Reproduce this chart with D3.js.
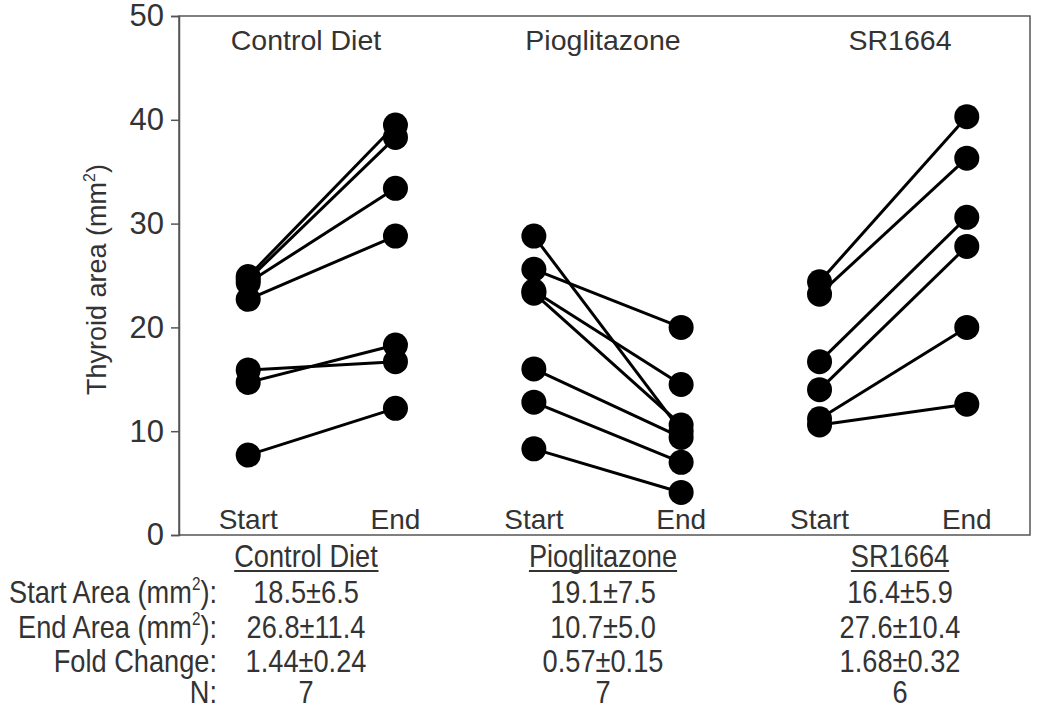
<!DOCTYPE html>
<html>
<head>
<meta charset="utf-8">
<script src="https://cdn.jsdelivr.net/npm/d3@7"></script>
<style>
  html, body { margin: 0; padding: 0; background: #fff; }
  svg text { font-family: "Liberation Sans", Arial, sans-serif; fill: #333; }
</style>
</head>
<body>
<svg id="chart" width="1050" height="710"></svg>
<script>
// ---- data ----
const groups = ["Control Diet", "Pioglitazone", "SR1664"];
const phases = ["Start", "End"];
const controlStart = [24.9, 24.6, 24.3, 22.7, 15.9, 14.7, 7.7];
const controlEnd   = [39.5, 38.3, 33.4, 28.8, 16.7, 18.3, 12.2];
const pioStart = [28.8, 25.6, 23.5, 23.3, 16.0, 12.8, 8.3];
const pioEnd   = [10.0, 20.0, 14.5, 10.6, 9.4, 7.0, 4.1];
const srStart = [24.4, 23.2, 16.7, 14.0, 11.2, 10.6];
const srEnd   = [40.3, 36.3, 30.6, 27.8, 20.0, 12.6];
const yTicks = [0, 10, 20, 30, 40, 50];
const yLabel = "Thyroid area (mm";
const rowLabels = ["Start Area (mm", "End Area (mm", "Fold Change:", "N:"];
const rowHasSup = [true, true, false, false];
const tableValues = [
  ["18.5\u00b16.5", "19.1\u00b17.5", "16.4\u00b15.9"],
  ["26.8\u00b111.4", "10.7\u00b15.0", "27.6\u00b110.4"],
  ["1.44\u00b10.24", "0.57\u00b10.15", "1.68\u00b10.32"],
  ["7", "7", "6"]
];
const series = [
  { group: groups[0], start: controlStart, end: controlEnd },
  { group: groups[1], start: pioStart, end: pioEnd },
  { group: groups[2], start: srStart, end: srEnd }
];

// ---- layout ----
const svg = d3.select("#chart");
const mLeft = 179, mRight = 1030, mTop = 16, mBottom = 535;

const y = d3.scaleLinear().domain([0, 50]).range([mBottom, mTop]);
const xg = d3.scaleBand().domain(groups).range([mLeft, mRight + 6]);
const xp = d3.scalePoint().domain(phases).range([0, xg.bandwidth()]).padding(0.47);
const xt = d3.scalePoint().domain(groups).range([306, 900]); // title / table columns

// frame
svg.append("rect")
  .attr("x", mLeft).attr("y", mTop)
  .attr("width", mRight - mLeft).attr("height", mBottom - mTop)
  .attr("fill", "none").attr("stroke", "#555").attr("stroke-width", 1.5);

// y axis
const yAxis = svg.append("g")
  .attr("transform", `translate(${mLeft},0)`)
  .call(d3.axisLeft(y).tickValues(yTicks).tickSize(8).tickPadding(7));
yAxis.select(".domain").attr("stroke", "#555").attr("stroke-width", 1.5);
yAxis.selectAll(".tick line").attr("stroke", "#555").attr("stroke-width", 1.5);
yAxis.selectAll(".tick text")
  .style("font-family", '"Liberation Sans", Arial, sans-serif')
  .style("font-size", "31px").attr("fill", "#333");

// y label
const yl = svg.append("text")
  .attr("transform", `translate(106,${(mTop + mBottom) / 2 + 4}) rotate(-90)`)
  .attr("text-anchor", "middle")
  .style("font-size", "27px");
yl.append("tspan").text(yLabel);
yl.append("tspan").text("2").style("font-size", "16px").attr("dy", -11);
yl.append("tspan").text(")").attr("dy", 11);

// group titles & phase labels
groups.forEach(g => {
  svg.append("text")
    .attr("x", xt(g)).attr("y", 50)
    .attr("text-anchor", "middle")
    .style("font-size", "28.5px")
    .text(g);
  phases.forEach(p => {
    svg.append("text")
      .attr("x", xg(g) + xp(p)).attr("y", 529)
      .attr("text-anchor", "middle")
      .style("font-size", "28px")
      .text(p);
  });
});

// lines and points
series.forEach(s => {
  const gx0 = xg(s.group) + xp("Start");
  const gx1 = xg(s.group) + xp("End");
  const pairs = s.start.map((v, i) => ({ a: v, b: s.end[i] }));
  const g = svg.append("g");
  g.selectAll("line.pair").data(pairs).join("line")
    .attr("x1", gx0).attr("x2", gx1)
    .attr("y1", d => y(d.a)).attr("y2", d => y(d.b))
    .attr("stroke", "#000").attr("stroke-width", 3);
  g.selectAll("circle.s").data(s.start).join("circle")
    .attr("cx", gx0).attr("cy", d => y(d)).attr("r", 12.5).attr("fill", "#000");
  g.selectAll("circle.e").data(s.end).join("circle")
    .attr("cx", gx1).attr("cy", d => y(d)).attr("r", 12.5).attr("fill", "#000");
});

// table (condensed text)
const rowY = [567, 603, 638, 672, 703];
const sx = 0.85;
function narrowText(x, yy, anchor) {
  return svg.append("text")
    .attr("transform", `translate(${x},${yy}) scale(${sx},1)`)
    .attr("text-anchor", anchor)
    .style("font-size", "32px");
}
groups.forEach(g => {
  const t = narrowText(xt(g), rowY[0], "middle").text(g);
  const bb = t.node().getBBox();
  svg.append("line")
    .attr("x1", xt(g) + bb.x * sx).attr("x2", xt(g) + (bb.x + bb.width) * sx)
    .attr("y1", rowY[0] + 4).attr("y2", rowY[0] + 4)
    .attr("stroke", "#333").attr("stroke-width", 2);
});
rowLabels.forEach((lab, i) => {
  const t = narrowText(217, rowY[i + 1], "end");
  t.append("tspan").text(lab);
  if (rowHasSup[i]) {
    t.append("tspan").text("2").style("font-size", "18px").attr("dy", -13);
    t.append("tspan").text("):").attr("dy", 13);
  }
  tableValues[i].forEach((v, j) => {
    narrowText(xt(groups[j]), rowY[i + 1], "middle").text(v);
  });
});
</script>
</body>
</html>
